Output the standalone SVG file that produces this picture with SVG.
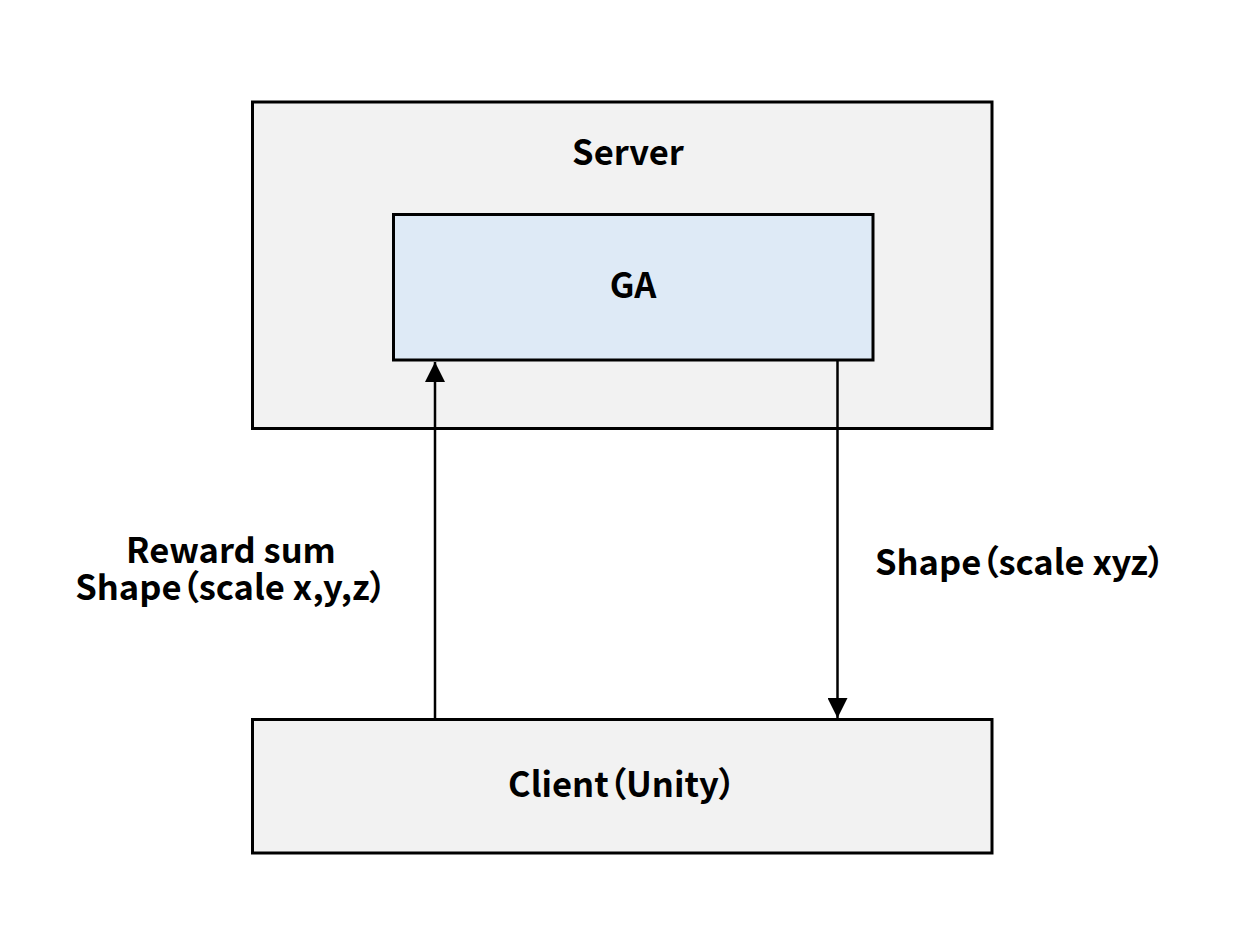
<svg xmlns="http://www.w3.org/2000/svg" width="1235" height="933" viewBox="0 0 1235 933">
<style>
.box{fill:#f2f2f2;stroke:#000;stroke-width:3}
.ga{fill:#deeaf6;stroke:#000;stroke-width:3}
.t{font-family:"Noto Sans CJK JP","Liberation Sans",sans-serif;font-weight:bold;font-size:34.5px;fill:#000;text-anchor:middle;font-feature-settings:"palt"}
.c{stroke:#000;stroke-width:2.5;fill:none}
</style>
<defs>
<marker id="ah" viewBox="0 0 20 20" refX="20" refY="10" markerWidth="20" markerHeight="20" markerUnits="userSpaceOnUse" orient="auto">
<path d="M0,0 L20,10 L0,20 Z" fill="#000"/>
</marker>
</defs>
<rect width="1235" height="933" fill="#fff"/>
<g id="server">
<rect class="box" x="252.5" y="102" width="739.5" height="326.5"/>
<text class="t" x="628" y="165">Server</text>
</g>
<g id="ga">
<rect class="ga" x="393.5" y="214.5" width="479.5" height="145.5"/>
<text class="t" x="633" y="298">GA</text>
</g>
<g id="client">
<rect class="box" x="252.5" y="719.5" width="739.5" height="133.5"/>
<text class="t" x="622" y="797">Client（Unity）</text>
</g>
<g id="connectors">
<line class="c" x1="435" y1="718" x2="435" y2="362" marker-end="url(#ah)"/>
<line class="c" x1="837.5" y1="361" x2="837.5" y2="718" marker-end="url(#ah)"/>
</g>
<g id="labels">
<text class="t" x="231" y="563">Reward sum<tspan x="231" dy="37">Shape（scale x,y,z）</tspan></text>
<text class="t" x="1020" y="575">Shape（scale xyz）</text>
</g>
</svg>
